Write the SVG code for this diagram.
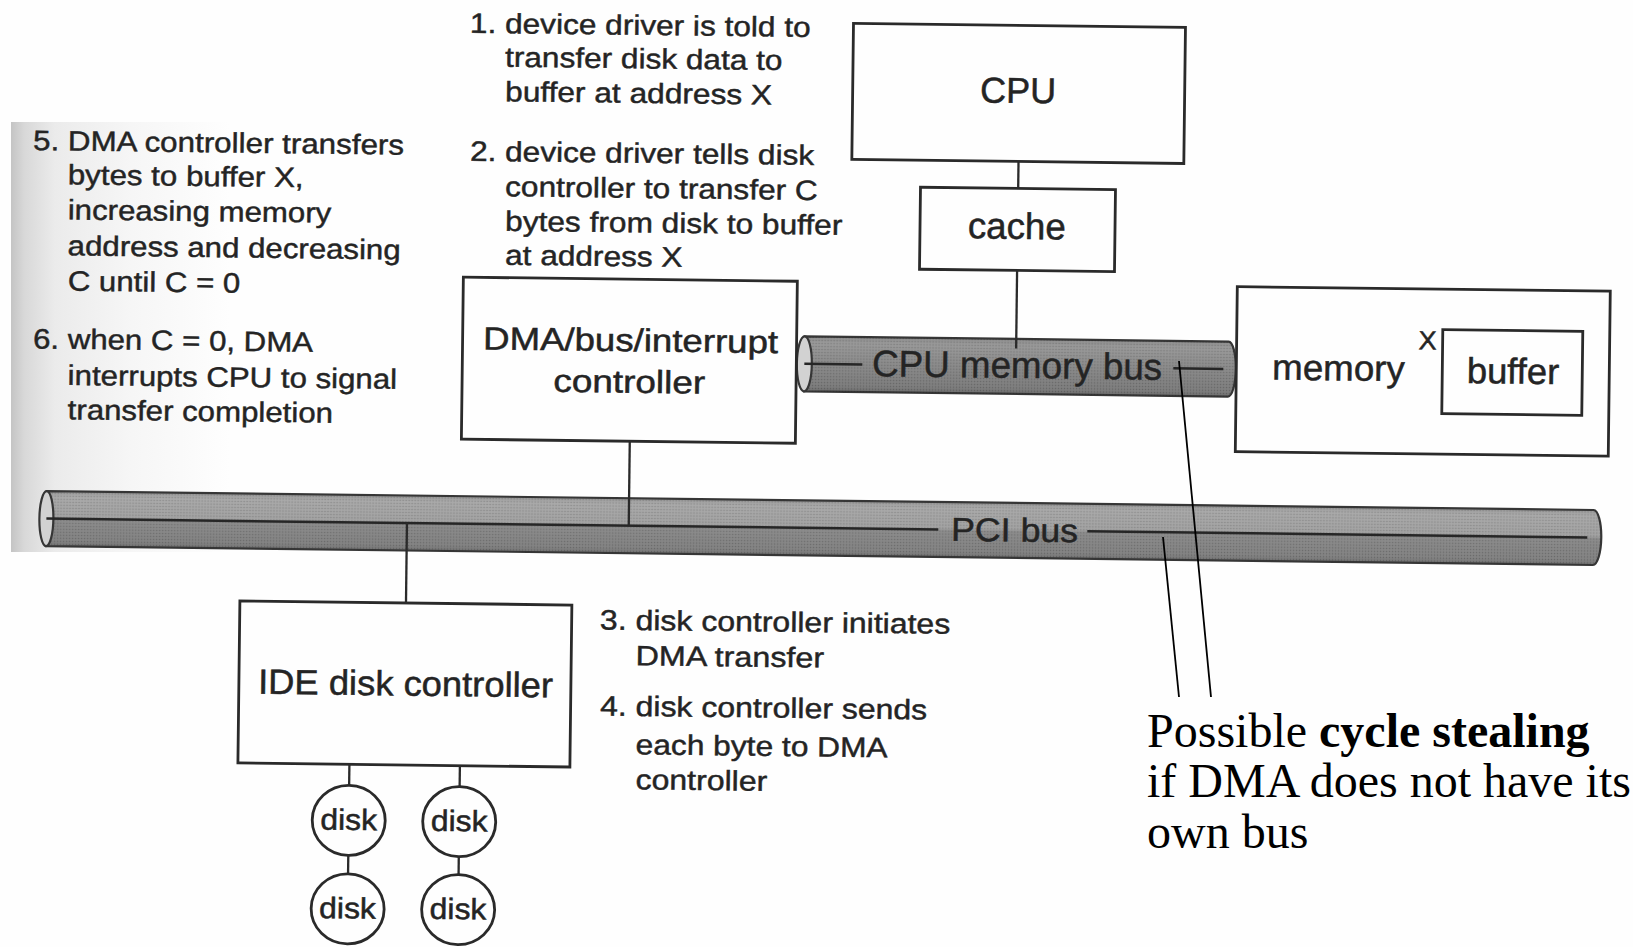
<svg xmlns="http://www.w3.org/2000/svg" width="1633" height="947" viewBox="0 0 1633 947">
  <defs>
    <style>
      .box { fill: none; stroke: #2a2a2a; stroke-width: 2.8; }
      .wire { fill: none; stroke: #2a2a2a; stroke-width: 2.3; }
      .busline { fill: none; stroke: #262626; stroke-width: 2.5; }
      .busedge { stroke: #363636; stroke-width: 2.2; }
      .cap { fill: #d2d2d2; stroke: #363636; stroke-width: 2.2; }
      .lbl { font-family: "Liberation Sans", Arial, Helvetica, sans-serif; fill: #242424; stroke: #242424; stroke-width: 0.5; }
      .note { font-family: "Liberation Sans", Arial, Helvetica, sans-serif; font-size: 28px; fill: #242424; stroke: #242424; stroke-width: 0.45; }
      .serif { font-family: "Liberation Serif", "Times New Roman", serif; font-size: 48px; fill: #000; }
      .pointer { fill: none; stroke: #000; stroke-width: 1.8; }
    </style>
    <!-- shading of the scanned sheet on the left -->
    <linearGradient id="panelShade" gradientUnits="userSpaceOnUse" x1="11" y1="0" x2="230" y2="0">
      <stop offset="0" stop-color="#c4c4c4"/>
      <stop offset="0.06" stop-color="#d8d8d8"/>
      <stop offset="0.2" stop-color="#ebebeb"/>
      <stop offset="0.55" stop-color="#f6f6f6"/>
      <stop offset="1" stop-color="#fefefe"/>
    </linearGradient>
    <linearGradient id="pciFill" x1="0" y1="0" x2="0" y2="1">
      <stop offset="0" stop-color="#9a9a9a"/>
      <stop offset="0.1" stop-color="#aaaaaa"/>
      <stop offset="0.47" stop-color="#a3a3a3"/>
      <stop offset="0.53" stop-color="#8c8c8c"/>
      <stop offset="0.9" stop-color="#838383"/>
      <stop offset="1" stop-color="#747474"/>
    </linearGradient>
    <linearGradient id="memBusFill" x1="0" y1="0" x2="0" y2="1">
      <stop offset="0" stop-color="#8e8e8e"/>
      <stop offset="0.12" stop-color="#9a9a9a"/>
      <stop offset="0.5" stop-color="#8b8b8b"/>
      <stop offset="0.9" stop-color="#7e7e7e"/>
      <stop offset="1" stop-color="#6e6e6e"/>
    </linearGradient>
    <!-- halftone screen of the printed bus tubes -->
    <pattern id="screen" width="3" height="3" patternUnits="userSpaceOnUse">
      <circle cx="1.5" cy="1.5" r="0.75" fill="#000" fill-opacity="0.2"/>
    </pattern>
  </defs>

  <rect width="1633" height="947" fill="#fefefe"/>
  <rect x="11" y="122" width="1000" height="430" fill="url(#panelShade)"/>

  <!-- the printed figure sits slightly rotated on the page -->
  <g id="figure" transform="rotate(0.7 816 473)">

    <g id="pci-bus">
      <path class="busedge" d="M47,500.5 H1594 A8,27.5 0 0 1 1594,555.5 H47 Z" fill="url(#pciFill)"/>
      <path d="M47,500.5 H1594 A8,27.5 0 0 1 1594,555.5 H47 Z" fill="url(#screen)"/>
      <ellipse class="cap" cx="47" cy="528" rx="7" ry="27.5"/>
      <path class="busline" d="M47,528 H939 M1088,528 H1588"/>
      <text class="lbl" x="951.8" y="539" font-size="33" textLength="127" lengthAdjust="spacingAndGlyphs">PCI bus</text>
    </g>

    <g id="cpu-memory-bus">
      <path class="busedge" d="M803,336.5 H1227 A7.5,27.5 0 0 1 1227,391.5 H803 Z" fill="url(#memBusFill)"/>
      <path d="M803,336.5 H1227 A7.5,27.5 0 0 1 1227,391.5 H803 Z" fill="url(#screen)"/>
      <ellipse class="cap" cx="803" cy="364" rx="7.5" ry="27.5"/>
      <path class="busline" d="M803,364 H861 M1172,364 H1222"/>
      <text class="lbl" x="870.8" y="375.5" font-size="37" textLength="290" lengthAdjust="spacingAndGlyphs">CPU memory bus</text>
    </g>

    <g id="connectors">
      <path class="wire" d="M1014.7,159 V186"/>
      <path class="wire" d="M1014.6,268 V346"/>
      <path class="wire" d="M629.4,443.6 V528"/>
      <path class="wire" d="M407.6,528 V608"/>
      <path class="wire" d="M353,770 V791"/>
      <path class="wire" d="M463.5,770 V791"/>
      <path class="wire" d="M353,861 V879.5"/>
      <path class="wire" d="M463.5,861 V879"/>
    </g>

    <g id="cpu">
      <rect class="box" x="848" y="23" width="332" height="136"/>
      <text class="lbl" x="975.5" y="100.5" font-size="36" textLength="76" lengthAdjust="spacingAndGlyphs">CPU</text>
    </g>

    <g id="cache">
      <rect class="box" x="917" y="186" width="195" height="82"/>
      <text class="lbl" x="964.8" y="236.5" font-size="37" textLength="98" lengthAdjust="spacingAndGlyphs">cache</text>
    </g>

    <g id="memory">
      <rect class="box" x="1235" y="281.5" width="373" height="165"/>
      <text class="lbl" x="1270.9" y="374" font-size="36" textLength="132.6" lengthAdjust="spacingAndGlyphs">memory</text>
      <text class="lbl" x="1417" y="342" font-size="26" textLength="18" lengthAdjust="spacingAndGlyphs">X</text>
    </g>

    <g id="buffer">
      <rect class="box" x="1441" y="322" width="140" height="84"/>
      <text class="lbl" x="1465.5" y="375" font-size="36" textLength="92.4" lengthAdjust="spacingAndGlyphs">buffer</text>
    </g>

    <g id="dma-controller">
      <rect class="box" x="461" y="281.5" width="334" height="162"/>
      <text class="lbl" x="481.5" y="353.5" font-size="32" textLength="295" lengthAdjust="spacingAndGlyphs">DMA/bus/interrupt</text>
      <text class="lbl" x="552.3" y="395" font-size="32" textLength="151.7" lengthAdjust="spacingAndGlyphs">controller</text>
    </g>

    <g id="ide-controller">
      <rect class="box" x="241.5" y="608" width="332" height="162"/>
      <text class="lbl" x="260.7" y="700.5" font-size="35" textLength="295" lengthAdjust="spacingAndGlyphs">IDE disk controller</text>
    </g>

    <g id="disk-1">
      <ellipse class="box" cx="353" cy="826" rx="36.5" ry="35"/>
      <text class="lbl" x="324.6" y="835.5" font-size="29.5" textLength="56.7" lengthAdjust="spacingAndGlyphs">disk</text>
    </g>
    <g id="disk-2">
      <ellipse class="box" cx="463.5" cy="826" rx="36.5" ry="35"/>
      <text class="lbl" x="435.1" y="835.5" font-size="29.5" textLength="56.7" lengthAdjust="spacingAndGlyphs">disk</text>
    </g>
    <g id="disk-3">
      <ellipse class="box" cx="353" cy="914.5" rx="36.5" ry="35"/>
      <text class="lbl" x="324.6" y="924" font-size="29.5" textLength="56.7" lengthAdjust="spacingAndGlyphs">disk</text>
    </g>
    <g id="disk-4">
      <ellipse class="box" cx="463.5" cy="914" rx="36.5" ry="35"/>
      <text class="lbl" x="435.1" y="923.5" font-size="29.5" textLength="56.7" lengthAdjust="spacingAndGlyphs">disk</text>
    </g>

    <g id="steps-1-2">
      <text class="note" x="464.5" y="37" textLength="340.7" lengthAdjust="spacingAndGlyphs">1. device driver is told to</text>
      <text class="note" x="500" y="70.5" textLength="277.5" lengthAdjust="spacingAndGlyphs">transfer disk data to</text>
      <text class="note" x="500.5" y="105" textLength="267" lengthAdjust="spacingAndGlyphs">buffer at address X</text>
      <text class="note" x="466.1" y="165" textLength="344.2" lengthAdjust="spacingAndGlyphs">2. device driver tells disk</text>
      <text class="note" x="501.7" y="200" textLength="312.6" lengthAdjust="spacingAndGlyphs">controller to transfer C</text>
      <text class="note" x="502.1" y="234.5" textLength="337.2" lengthAdjust="spacingAndGlyphs">bytes from disk to buffer</text>
      <text class="note" x="502.5" y="268.5" textLength="177.4" lengthAdjust="spacingAndGlyphs">at address X</text>
    </g>

    <g id="steps-3-4">
      <text class="note" x="601.8" y="632.1" textLength="350.3" lengthAdjust="spacingAndGlyphs">3. disk controller initiates</text>
      <text class="note" x="637.9" y="667.4" textLength="188.5" lengthAdjust="spacingAndGlyphs">DMA transfer</text>
      <text class="note" x="602.9" y="718.1" textLength="327.2" lengthAdjust="spacingAndGlyphs">4. disk controller sends</text>
      <text class="note" x="639" y="756.4" textLength="252" lengthAdjust="spacingAndGlyphs">each byte to DMA</text>
      <text class="note" x="639.4" y="791.4" textLength="131.6" lengthAdjust="spacingAndGlyphs">controller</text>
    </g>

    <g id="steps-5-6">
      <text class="note" x="29.1" y="159.7" textLength="371" lengthAdjust="spacingAndGlyphs">5. DMA controller transfers</text>
      <text class="note" x="64.2" y="193.5" textLength="235.9" lengthAdjust="spacingAndGlyphs">bytes to buffer X,</text>
      <text class="note" x="64.6" y="228.5" textLength="263.5" lengthAdjust="spacingAndGlyphs">increasing memory</text>
      <text class="note" x="65" y="264.5" textLength="333" lengthAdjust="spacingAndGlyphs">address and decreasing</text>
      <text class="note" x="65.5" y="299.7" textLength="172.5" lengthAdjust="spacingAndGlyphs">C until C = 0</text>
      <text class="note" x="31.5" y="358" textLength="280" lengthAdjust="spacingAndGlyphs">6. when C = 0, DMA</text>
      <text class="note" x="66.6" y="394" textLength="329.4" lengthAdjust="spacingAndGlyphs">interrupts CPU to signal</text>
      <text class="note" x="67" y="428.5" textLength="265.3" lengthAdjust="spacingAndGlyphs">transfer completion</text>
    </g>
  </g>

  <!-- remark about bus contention, drawn on top of the figure -->
  <g id="cycle-stealing-note">
    <path class="pointer" d="M1163,537 L1179,697"/>
    <path class="pointer" d="M1179,361 L1211,697"/>
    <text class="serif" x="1147" y="747">Possible <tspan font-weight="bold">cycle stealing</tspan></text>
    <text class="serif" x="1147" y="797">if DMA does not have its</text>
    <text class="serif" x="1147" y="848">own bus</text>
  </g>
</svg>
